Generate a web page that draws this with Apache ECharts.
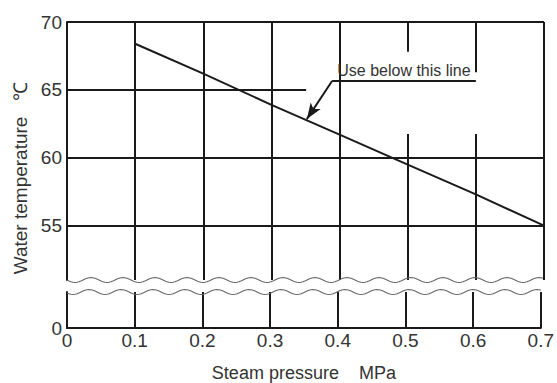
<!DOCTYPE html>
<html>
<head>
<meta charset="utf-8">
<script src="https://cdn.jsdelivr.net/npm/echarts@6/dist/echarts.min.js"></script>
<style>
  html, body { margin: 0; padding: 0; background: #fff; }
  #chart { width: 557px; height: 383px; }
</style>
</head>
<body>
<div id="chart"></div>
<script>
// data
var pressure = [0.1, 0.2, 0.3, 0.4, 0.5, 0.6, 0.7];
var waterTemp = [68.4, 66.2, 63.9, 61.7, 59.5, 57.3, 55.0];
var upperTicks = [55, 60, 65, 70];
var lowerTicks = [0];
var noteText = 'Use below this line';

(function() {
  var ink = '#1a1a1a';
  var text = '#333';
  var font = '"Liberation Sans", Arial, sans-serif';
  var upMin = 51, upMax = 70;

  var el = document.getElementById('chart');
  var chart = echarts.init(el, null, { renderer: 'svg' });

  function seg(x1, y1, x2, y2) {
    return [{ coord: [x1, y1] }, { coord: [x2, y2] }];
  }

  var frame = [
    seg(0, 70, 0.7, 70),
    seg(0.7, upMin, 0.7, 70),
    seg(0.1, upMin, 0.1, 70),
    seg(0.2, upMin, 0.2, 70),
    seg(0.3, upMin, 0.3, 70),
    seg(0.4, upMin, 0.4, 70),
    seg(0.5, 67.8, 0.5, 70),
    seg(0.5, upMin, 0.5, 61.75),
    seg(0.6, 66.3, 0.6, 70),
    seg(0.6, upMin, 0.6, 61.75),
    seg(0, 60, 0.7, 60),
    seg(0, 55, 0.7, 55),
    seg(0, 65, 0.351, 65)
  ];
  // annotation underline with its text
  var noteLabel = { show: true, formatter: noteText, position: 'insideMiddleTop',
    color: text, fontSize: 16, fontFamily: font, distance: 2 };
  frame.push([
    { coord: [0.389, 65.66], label: noteLabel },
    { coord: [0.6, 65.66], label: noteLabel }
  ]);
  // leader with arrow
  frame.push([
    { coord: [0.389, 65.66], symbol: 'none' },
    { coord: [0.352, 62.85], symbol: 'arrow', symbolSize: [9, 16] }
  ]);

  var data = pressure.map(function(p, i) { return [p, waterTemp[i]]; });

  chart.setOption({
    animation: false,
    backgroundColor: '#fff',
    textStyle: { fontFamily: font },
    grid: [
      { left: 67, right: 13, top: 22, height: 258 },
      { left: 67, right: 13, top: 292, height: 36 }
    ],
    xAxis: [
      { type: 'value', gridIndex: 0, min: 0, max: 0.7, interval: 0.1, show: false },
      {
        type: 'value', gridIndex: 1, min: 0, max: 0.7, interval: 0.1,
        axisLine: { show: true, lineStyle: { color: ink, width: 2 } },
        axisTick: { show: false },
        splitLine: { show: true, lineStyle: { color: ink, width: 2 } },
        axisLabel: { color: text, fontSize: 19, margin: 3, fontFamily: font },
        name: 'Steam pressure    MPa',
        nameLocation: 'middle',
        nameGap: 36,
        nameTextStyle: { color: text, fontSize: 18, fontFamily: font }
      }
    ],
    yAxis: [
      {
        type: 'value', gridIndex: 0, min: upMin, max: upMax,
        axisLine: { show: true, lineStyle: { color: ink, width: 2 } },
        axisTick: { show: false },
        splitLine: { show: false },
        axisLabel: { color: text, fontSize: 19, margin: 5, customValues: upperTicks, fontFamily: font }
      },
      {
        type: 'value', gridIndex: 1, min: 0, max: 1, interval: 1,
        axisLine: { show: true, lineStyle: { color: ink, width: 2 } },
        axisTick: { show: false },
        splitLine: { show: false },
        axisLabel: { color: text, fontSize: 19, margin: 5, customValues: lowerTicks, fontFamily: font }
      }
    ],
    series: [{
      type: 'line',
      xAxisIndex: 0,
      yAxisIndex: 0,
      data: data,
      symbol: 'none',
      lineStyle: { color: ink, width: 2 },
      z: 3,
      markLine: {
        silent: true,
        symbol: ['none', 'none'],
        lineStyle: { color: ink, width: 2, type: 'solid' },
        label: { show: false },
        emphasis: { disabled: true },
        data: frame
      }
    }]
  });

  // wavy break marks along the cut edges
  function wave(gridIndex, val, phase) {
    var a = chart.convertToPixel({ gridIndex: gridIndex }, [0, val]);
    var b = chart.convertToPixel({ gridIndex: gridIndex }, [0.7, val]);
    var pts = [];
    for (var x = a[0]; x <= b[0] + 0.5; x += 2) {
      pts.push([x, a[1] + 2.5 * Math.sin((x - a[0]) / 32 * 2 * Math.PI + phase)]);
    }
    return {
      type: 'polyline',
      shape: { points: pts },
      style: { stroke: '#666', lineWidth: 1.1, fill: null },
      z: 10
    };
  }

  chart.setOption({
    graphic: [
      wave(0, upMin, 0),
      wave(1, 1, 0.4),
      {
        type: 'text',
        x: 20,
        y: 178,
        rotation: Math.PI / 2,
        style: {
          text: 'Water temperature   \u2103',
          fontSize: 19,
          fontFamily: font,
          fill: text,
          align: 'center',
          verticalAlign: 'middle'
        }
      }
    ]
  });
})();
</script>
</body>
</html>
